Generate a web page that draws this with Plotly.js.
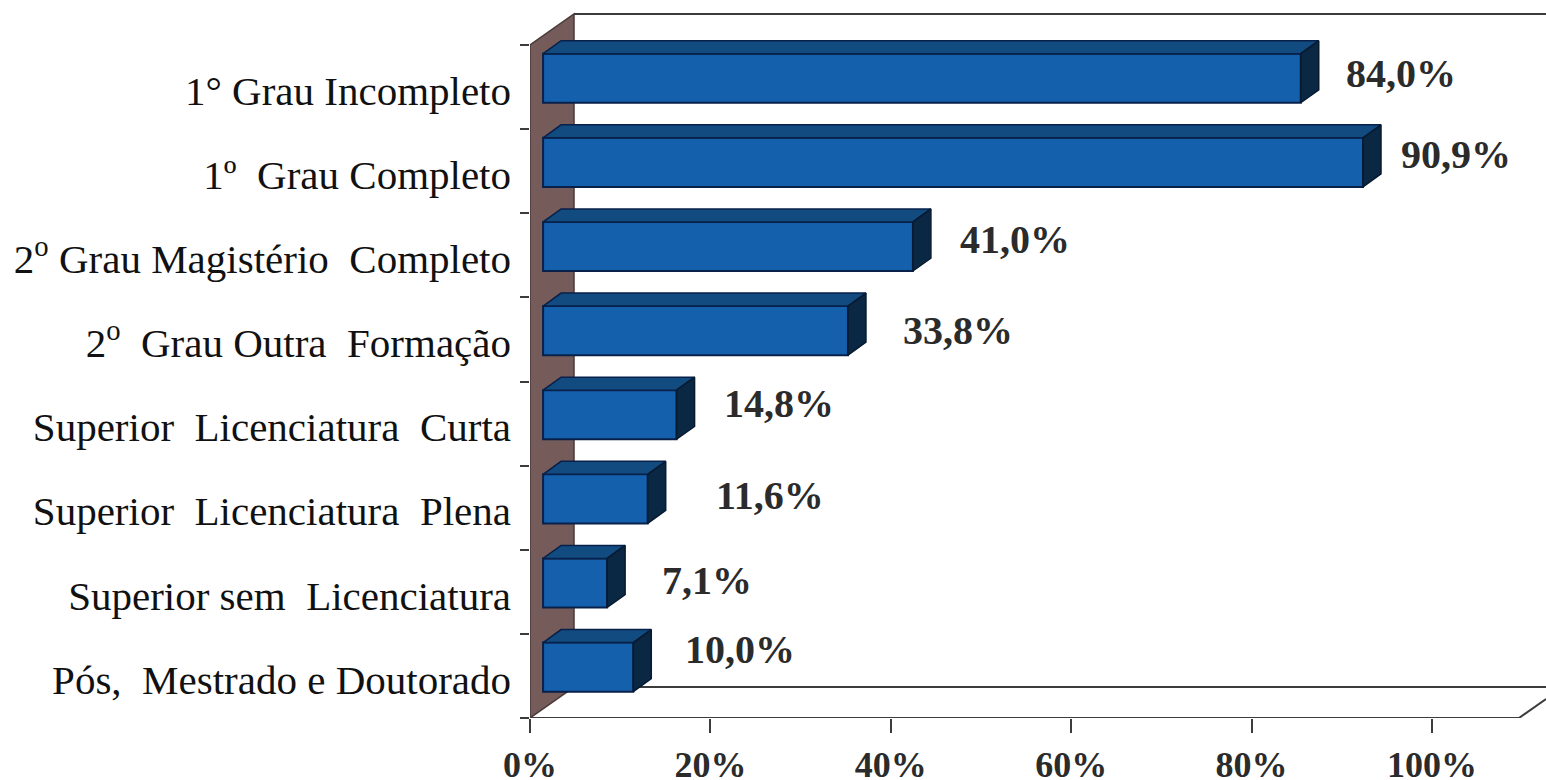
<!DOCTYPE html>
<html>
<head>
<meta charset="utf-8">
<script src="https://cdn.plot.ly/plotly-3.0.1.min.js"></script>
<style>html,body{margin:0;padding:0;background:#fff}#chart{width:1546px;height:780px}</style>
</head>
<body>
<div id="chart"></div>
<script>
// Data, top to bottom as printed
const categories = [
  "1° Grau Incompleto",
  "1º\u00a0 Grau Completo",
  "2<sup>o</sup> Grau Magistério\u00a0 Completo",
  "2<sup>o</sup>\u00a0 Grau Outra\u00a0 Formação",
  "Superior\u00a0 Licenciatura\u00a0 Curta",
  "Superior\u00a0 Licenciatura\u00a0 Plena",
  "Superior sem\u00a0 Licenciatura",
  "Pós,\u00a0 Mestrado e Doutorado"
];
const values = [84.0, 90.9, 41.0, 33.8, 14.8, 11.6, 7.1, 10.0];
const xTicks = [0, 20, 40, 60, 80, 100];
const xTickLabels = ["0%", "20%", "40%", "60%", "80%", "100%"];

// Hand-placed label offsets in the original (pixels)
const labelNudgeX = [25, 18, 27, 35, 27, 48, 35, 32];
const labelNudgeY = [5, 8, 6.5, 0, 11.5, 3, 2.5, 17.5];

// Pseudo-3D geometry, axis units
const W = 1546, H = 780, LEFT = 530, AXIS_Y = 718;
const PX_X = 9.02, PX_Y = 84.125;
const n = categories.length;
const barBase = 1.45, barThick = 0.583, barCentre = 0.605;
const dx = 18 / PX_X, dy = 13 / PX_Y;
const wallX = 44 / PX_X, wallY = 31 / PX_Y;
const xMax = (W - LEFT) / PX_X, yMax = AXIS_Y / PX_Y, floorEnd = (1519 - LEFT) / PX_X;

const colFront = "#1560ac", colTop = "#114b80", colSide = "#0a2743", colEdge = "#08204a",
      colWall = "#755b59", colFrame = "#3c3c3c", colText = "#2b2b2b";

const yPos = categories.map((c, i) => n - 1 - i);
const yBar = yPos.map(p => p + barCentre);

const topX = [], topY = [], sideX = [], sideY = [];
values.forEach((v, i) => {
  const yt = yBar[i] + barThick / 2, yb = yBar[i] - barThick / 2, xe = barBase + v;
  topX.push(barBase, barBase + dx, xe + dx, xe, barBase, null);
  topY.push(yt, yt + dy, yt + dy, yt, yt, null);
  sideX.push(xe, xe + dx, xe + dx, xe, xe, null);
  sideY.push(yt, yt + dy, yb + dy, yb, yt, null);
});

const traces = [
  { type: "bar", orientation: "h", x: values, y: yBar, base: barBase, width: barThick,
    marker: { color: colFront, line: { color: colEdge, width: 2 } }, hoverinfo: "skip", showlegend: false },
  { type: "scatter", mode: "lines", x: topX, y: topY, fill: "toself", fillcolor: colTop,
    line: { color: colEdge, width: 1.5 }, hoverinfo: "skip", showlegend: false },
  { type: "scatter", mode: "lines", x: sideX, y: sideY, fill: "toself", fillcolor: colSide,
    line: { color: "#071a30", width: 1.5 }, hoverinfo: "skip", showlegend: false }
];

const frameLine = { color: colFrame, width: 2 };
const seg = (x0, y0, x1, y1) => ({ type: "line", xref: "x", yref: "y", layer: "below", x0, y0, x1, y1, line: frameLine });
const shapes = [
  { type: "path", xref: "x", yref: "y", layer: "below",
    path: `M 0 0 L 0 ${n} L ${wallX} ${n + wallY} L ${wallX} ${wallY} Z`,
    fillcolor: colWall, line: { color: "#4a3a3a", width: 1.5 } },
  seg(wallX, n + wallY, xMax, n + wallY),
  seg(wallX, wallY, xMax, wallY),
  seg(0, 0, floorEnd, 0),
  seg(floorEnd, 0, xMax, (xMax - floorEnd) * wallY / wallX)
];

const annotations = values.map((v, i) => ({
  xref: "x", yref: "y", x: barBase + v + dx, y: yBar[i],
  xanchor: "left", yanchor: "middle", showarrow: false,
  xshift: labelNudgeX[i], yshift: labelNudgeY[i],
  text: "<b>" + v.toFixed(1).replace(".", ",") + "%</b>",
  font: { family: "Liberation Serif", size: 40, color: colText }
}));

const layout = {
  width: W, height: H,
  margin: { l: LEFT, r: 0, t: 0, b: H - AXIS_Y, pad: 0 },
  paper_bgcolor: "#ffffff", plot_bgcolor: "#ffffff",
  showlegend: false, bargap: 0,
  shapes, annotations,
  xaxis: {
    range: [0, xMax], showgrid: false, zeroline: false, showline: false,
    tickmode: "array", tickvals: xTicks, ticktext: xTickLabels,
    ticks: "outside", ticklen: 14, tickwidth: 2, tickcolor: colFrame,
    ticklabelstandoff: 1,
    tickfont: { family: "Liberation Serif", size: 36, color: colText, weight: 700 }
  },
  yaxis: {
    range: [0, yMax], showgrid: false, zeroline: false, showline: false,
    tickmode: "array", tickvals: yPos.map(p => p + 0.46), ticktext: categories,
    ticks: "", ticklabelstandoff: 18,
    tickfont: { family: "Liberation Serif", size: 41, color: "#111111" },
    minor: { tickmode: "array", tickvals: [...Array(n + 1).keys()], ticks: "outside",
             ticklen: 9, tickwidth: 2, tickcolor: colFrame, showgrid: false }
  }
};

Plotly.newPlot("chart", traces, layout, { displayModeBar: false, staticPlot: true });
</script>
</body>
</html>
